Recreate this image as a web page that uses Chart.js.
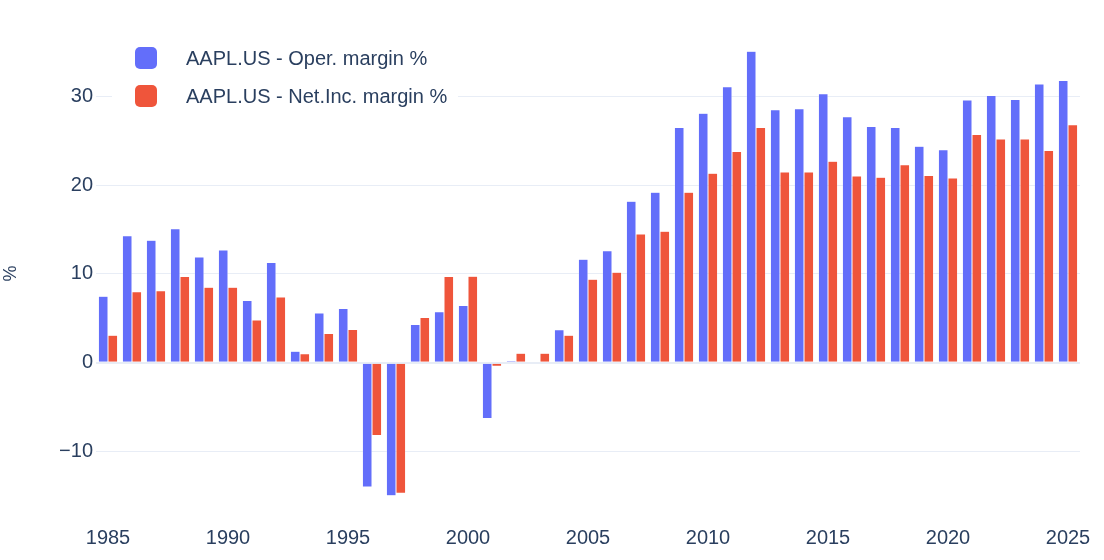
<!DOCTYPE html>
<html>
<head>
<meta charset="utf-8">
<script src="https://cdn.jsdelivr.net/npm/chart.js@4"></script>
<style>
  html, body { margin: 0; padding: 0; background: #fff; }
  #wrap { width: 1104px; height: 560px; position: relative; }
</style>
</head>
<body>
<div id="wrap"><canvas id="c"></canvas></div>
<script>
const years = [];
for (let y = 1985; y <= 2025; y++) years.push(String(y));

const operMargin = [
  7.5, 14.3, 13.8, 15.1, 11.9, 12.7, 7.0, 11.3, 1.3, 5.6,
  6.1, -14.0, -15.0, 4.3, 5.75, 6.45, -6.3, 0.2, 0.0, 3.7,
  11.65, 12.6, 18.2, 19.2, 26.5, 28.1, 31.1, 35.1, 28.5, 28.6,
  30.3, 27.7, 26.6, 26.5, 24.4, 24.0, 29.6, 30.1, 29.65, 31.4,
  31.8
];
const netMargin = [
  3.1, 8.0, 8.1, 9.7, 8.5, 8.5, 4.8, 7.4, 1.0, 3.3,
  3.75, -8.2, -14.7, 5.1, 9.7, 9.75, -0.4, 1.05, 1.05, 3.1,
  9.4, 10.2, 14.5, 14.8, 19.2, 21.35, 23.8, 26.5, 21.5, 21.5,
  22.7, 21.05, 20.9, 22.3, 21.1, 20.8, 25.7, 25.2, 25.2, 23.9,
  26.8
];
const seriesNames = ['AAPL.US - Oper. margin %', 'AAPL.US - Net.Inc. margin %'];
const seriesColors = ['#636efa', '#ef553b'];
const yTicks = [-10, 0, 10, 20, 30];

const FONT = '"Liberation Sans", Arial, sans-serif';
const TXT = '#2a3f5f';
const GRID = '#e8edf6';

// legend drawn over the plot, top-left, like the source
const boxLegend = {
  id: 'boxLegend',
  afterDraw(chart) {
    const ctx = chart.ctx;
    const x0 = 135, y0 = 47, sz = 22, gap = 38;
    ctx.save();
    ctx.fillStyle = '#fff';
    ctx.fillRect(112, 36, 346, 80);
    ctx.font = '20px ' + FONT;
    ctx.textBaseline = 'middle';
    chart.data.datasets.forEach((ds, i) => {
      const y = y0 + i * gap;
      ctx.fillStyle = ds.backgroundColor;
      ctx.beginPath();
      ctx.roundRect(x0, y, sz, sz, 5);
      ctx.fill();
      ctx.fillStyle = TXT;
      ctx.fillText(ds.label, 186, y + sz / 2 + 1);
    });
    ctx.restore();
  }
};

new Chart(document.getElementById('c'), {
  type: 'bar',
  data: {
    labels: years,
    datasets: [
      { label: seriesNames[0], data: operMargin, backgroundColor: seriesColors[0],
        borderColor: 'rgba(255,255,255,0.7)', borderWidth: 0.5 },
      { label: seriesNames[1], data: netMargin, backgroundColor: seriesColors[1],
        borderColor: 'rgba(255,255,255,0.7)', borderWidth: 0.5 }
    ]
  },
  options: {
    responsive: true,
    maintainAspectRatio: false,
    animation: false,
    devicePixelRatio: 1,
    layout: { padding: { top: 29, right: 24, left: 0, bottom: 0 } },
    datasets: { bar: { categoryPercentage: 0.8, barPercentage: 1.0 } },
    plugins: { legend: { display: false }, tooltip: { enabled: false } },
    scales: {
      x: {
        grid: { display: false },
        border: { display: false },
        ticks: {
          color: TXT, font: { family: FONT, size: 20 },
          autoSkip: false, maxRotation: 0, padding: 0,
          callback: function (v) {
            const lab = this.getLabelForValue(v);
            return Number(lab) % 5 === 0 ? lab : '';
          }
        },
        afterFit: s => { s.height = 42; }
      },
      y: {
        min: -17.5, max: 37.6,
        grid: {
          color: GRID,
          lineWidth: c => (c.tick && c.tick.value === 0 ? 2 : 1),
          drawTicks: false
        },
        border: { display: false },
        title: { display: true, text: '%', color: TXT, font: { family: FONT, size: 18 }, padding: 0 },
        ticks: {
          color: TXT, font: { family: FONT, size: 20 }, padding: 3,
          callback: v => (v < 0 ? '\u2212' + Math.abs(v) : String(v))
        },
        afterBuildTicks: s => { s.ticks = yTicks.map(v => ({ value: v })); },
        afterFit: s => { s.width = 96; }
      }
    }
  },
  plugins: [boxLegend]
});
</script>
</body>
</html>
